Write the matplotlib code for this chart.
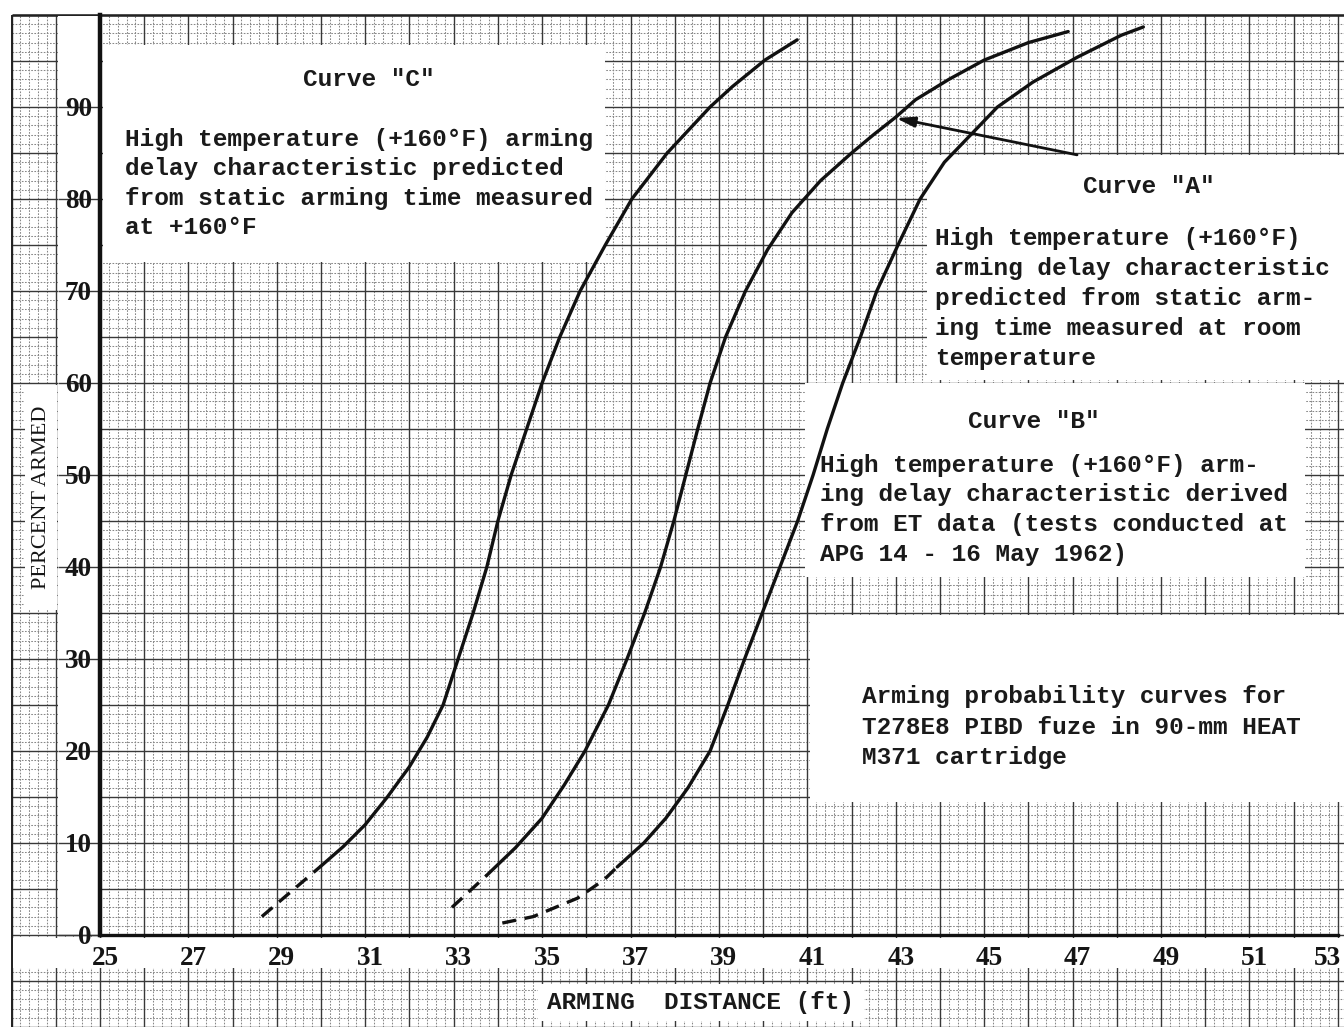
import matplotlib
matplotlib.use("Agg")
import matplotlib.pyplot as plt
import matplotlib.transforms as mtransforms
from matplotlib.patches import Rectangle
import numpy as np

# ---------------- data ----------------
x_ticks = list(range(25, 54, 2))
y_ticks = list(range(0, 100, 10))

# Curve "C" (static arming time measured at +160F)
c_dash_x = [28.66, 30.0]
c_dash_y = [2.0, 7.5]
c_x = [30.0, 30.5, 31.0, 31.5, 32.0, 32.4, 32.76, 33.1, 33.44, 33.75, 34.0, 34.3,
       34.65, 35.0, 35.4, 35.86, 36.43, 37.03, 37.83, 38.8, 39.3, 40.04, 40.77]
c_y = [7.5, 9.6, 12.0, 15.0, 18.3, 21.5, 25, 30, 35, 40, 45, 50,
       55, 60, 65, 70, 75, 80, 85, 90, 92.2, 95.1, 97.3]

# Curve "A" (static arming time measured at room temperature)
a_dash_x = [32.96, 33.75]
a_dash_y = [3.0, 6.5]
a_x = [33.75, 34.4, 35.0, 35.5, 35.97, 36.5, 36.92, 37.32, 37.68, 37.98, 38.25, 38.52,
       38.8, 39.15, 39.6, 40.1, 40.65, 41.3, 42.0, 42.5, 43.0, 43.45, 44.2, 45.0, 46.0, 46.9]
a_y = [6.5, 9.5, 12.7, 16.3, 20, 25, 30, 35, 40, 45, 50, 55,
       60, 65, 70, 74.5, 78.5, 82, 85, 87, 88.9, 90.8, 93.0, 95.1, 97.0, 98.2]

# Curve "B" (derived from ET data)
b_dash_x = [34.1, 34.8, 35.8, 36.4, 36.7]
b_dash_y = [1.3, 2.0, 4.0, 6.0, 7.4]
b_x = [36.7, 37.3, 37.8, 38.3, 38.8, 39.2, 39.58, 39.98, 40.38, 40.78, 41.13, 41.45,
       41.8, 42.2, 42.57, 43.05, 43.55, 44.1, 44.7, 45.3, 46.1, 47.1, 48.1, 48.6]
b_y = [7.4, 10.0, 12.7, 16.0, 20, 25, 30, 35, 40, 45, 50, 55,
       60, 65, 70, 75, 80, 84, 87, 90, 92.7, 95.4, 97.8, 98.7]

arrow_tip = (43.0, 88.8)
arrow_tail = (47.1, 84.8)

# ---------------- layout ----------------
W, H = 1344, 1027
X0PX, PXFT = 100.0, 44.21   # pixel of x=25, pixels per ft
Y0PX, PXPC = 935.0, 9.2     # pixel of y=0, pixels per percent

def px2x(px):
    return 25 + (px - X0PX) / PXFT

def py2y(py):
    return (Y0PX - py) / PXPC

fig = plt.figure(figsize=(W / 100, H / 100), dpi=100)
fig.patch.set_facecolor("white")

# background "graph paper"
bg = fig.add_axes([0, 0, 1, 1], zorder=1)
bg.set_xlim(px2x(0), px2x(W))
bg.set_ylim(py2y(H), py2y(0))
bg.axis("off")

xmin_p, xmax_p = 23.0, px2x(W)
ymin_p, ymax_p = py2y(H), 100.0

minor_x = [v for v in np.arange(23.0, xmax_p, 0.2) if abs(v - round(v)) > 1e-6]
major_x = list(np.arange(23.0, xmax_p, 1.0))
minor_y = [v for v in np.arange(-10.0, 100.0, 1.0) if abs(v / 5 - round(v / 5)) > 1e-6]
major_y = list(np.arange(-10.0, 100.1, 5.0))

minor_col = "#888888"
major_col = "#383838"
bg.vlines(minor_x, ymin_p, ymax_p, colors=minor_col, linestyles=(0, (1.6, 1.4)), lw=0.75, zorder=1)
bg.hlines(minor_y, xmin_p, xmax_p, colors=minor_col, linestyles=(0, (1.6, 1.4)), lw=0.75, zorder=1)
bg.vlines(major_x, ymin_p, ymax_p, colors=major_col, lw=1.0, zorder=2)
bg.hlines(major_y, xmin_p, xmax_p, colors=major_col, lw=1.0, zorder=2)
bg.hlines([100.0], xmin_p, xmax_p, colors="#222222", lw=1.8, zorder=2)
bg.vlines([23.0], ymin_p, ymax_p, colors="#222222", lw=1.4, zorder=2)

def white_box(x0, y0, x1, y1):
    bg.add_patch(Rectangle((px2x(x0), py2y(y1)), px2x(x1) - px2x(x0), py2y(y0) - py2y(y1),
                           facecolor="white", edgecolor="none", zorder=3))

white_box(103, 45, 605, 262)      # curve C note
white_box(927, 155, 1344, 380)    # curve A note
white_box(805, 383, 1305, 577)    # curve B note
white_box(810, 615, 1344, 802)    # caption
white_box(13, 938, 1344, 968)     # x tick label strip
white_box(58, 16, 98, 934)        # y tick label strip
white_box(25, 385, 57, 610)       # y label
white_box(538, 984, 864, 1021)    # x label

# leader lines through the y tick strip
bg.hlines(y_ticks, px2x(58), 25, colors=major_col, lw=1.0, zorder=3.5)

# notes
mono = dict(family="Liberation Mono", fontweight="bold", fontsize=17.6, color="#1a1a1a", zorder=5)

def note(px, py, s):
    fig.text(px / W, 1 - py / H, s, ha="left", va="baseline", **mono)

note(303, 86, 'Curve "C"')
for i, s in enumerate(["High temperature (+160°F) arming",
                       "delay characteristic predicted",
                       "from static arming time measured",
                       "at +160°F"]):
    note(125, 146 + i * 29.5, s)

note(1083, 193, 'Curve "A"')
for i, s in enumerate(["High temperature (+160°F)",
                       "arming delay characteristic",
                       "predicted from static arm-",
                       "ing time measured at room",
                       "temperature"]):
    note(935, 245 + i * 30, s)

note(968, 428, 'Curve "B"')
for i, s in enumerate(["High temperature (+160°F) arm-",
                       "ing delay characteristic derived",
                       "from ET data (tests conducted at",
                       "APG 14 - 16 May 1962)"]):
    note(820, 472 + i * 29.5, s)

for i, s in enumerate(["Arming probability curves for",
                       "T278E8 PIBD fuze in 90-mm HEAT",
                       "M371 cartridge"]):
    note(862, 703 + i * 30.5, s)

# ---------------- main axes ----------------
ax = fig.add_axes([X0PX / W, 1 - Y0PX / H, 28 * PXFT / W, 100 * PXPC / H], zorder=2)
ax.patch.set_alpha(0)
ax.set_xlim(25, 53)
ax.set_ylim(0, 100)

lc = "#111111"
lw = 2.4
for dx, dy, sx, sy in [(c_dash_x, c_dash_y, c_x, c_y),
                       (a_dash_x, a_dash_y, a_x, a_y),
                       (b_dash_x, b_dash_y, b_x, b_y)]:
    ax.plot(dx, dy, color=lc, lw=lw, dashes=(4.2, 2.6), dash_capstyle="butt")
    ax.plot(sx, sy, color=lc, lw=lw, solid_capstyle="round", solid_joinstyle="round")

ax.annotate("", xy=arrow_tip, xytext=arrow_tail,
            arrowprops=dict(arrowstyle="-|>,head_length=1.1,head_width=0.3",
                            color=lc, lw=2.0, shrinkA=0, shrinkB=0))

for side in ["top", "right"]:
    ax.spines[side].set_visible(False)
ax.spines["left"].set_linewidth(3.2)
ax.spines["bottom"].set_linewidth(2.4)
ax.spines["left"].set_color(lc)
ax.spines["bottom"].set_color(lc)

tickfont = dict(family="Liberation Serif", fontweight="bold", fontsize=19.5)
ax.set_xticks(x_ticks)
ax.set_xticklabels([str(t) for t in x_ticks], **tickfont)
ax.set_yticks(y_ticks)
ax.set_yticklabels([str(t) for t in y_ticks], **tickfont)
ax.tick_params(axis="x", length=0, pad=8.0, colors="#151515")
ax.tick_params(axis="y", length=0, pad=5.8, colors="#151515")
labels = ax.get_xticklabels()
for i, lab in enumerate(labels):
    dxpx = 5 if i < len(labels) - 1 else -11
    lab.set_transform(lab.get_transform() + mtransforms.ScaledTranslation(dxpx / 100, 0, fig.dpi_scale_trans))

ax.set_ylabel("PERCENT ARMED", family="Liberation Serif", fontsize=16, color="#151515", va="center")
ax.yaxis.set_label_coords((42 - X0PX) / (28 * PXFT), (Y0PX - 497) / (100 * PXPC))
ax.set_xlabel("ARMING  DISTANCE (ft)", va="center", **{k: v for k, v in mono.items() if k != "zorder"})
ax.xaxis.set_label_coords((701 - X0PX) / (28 * PXFT), (Y0PX - 1002) / (100 * PXPC))

fig.savefig("out.png", dpi=100, facecolor="white")
